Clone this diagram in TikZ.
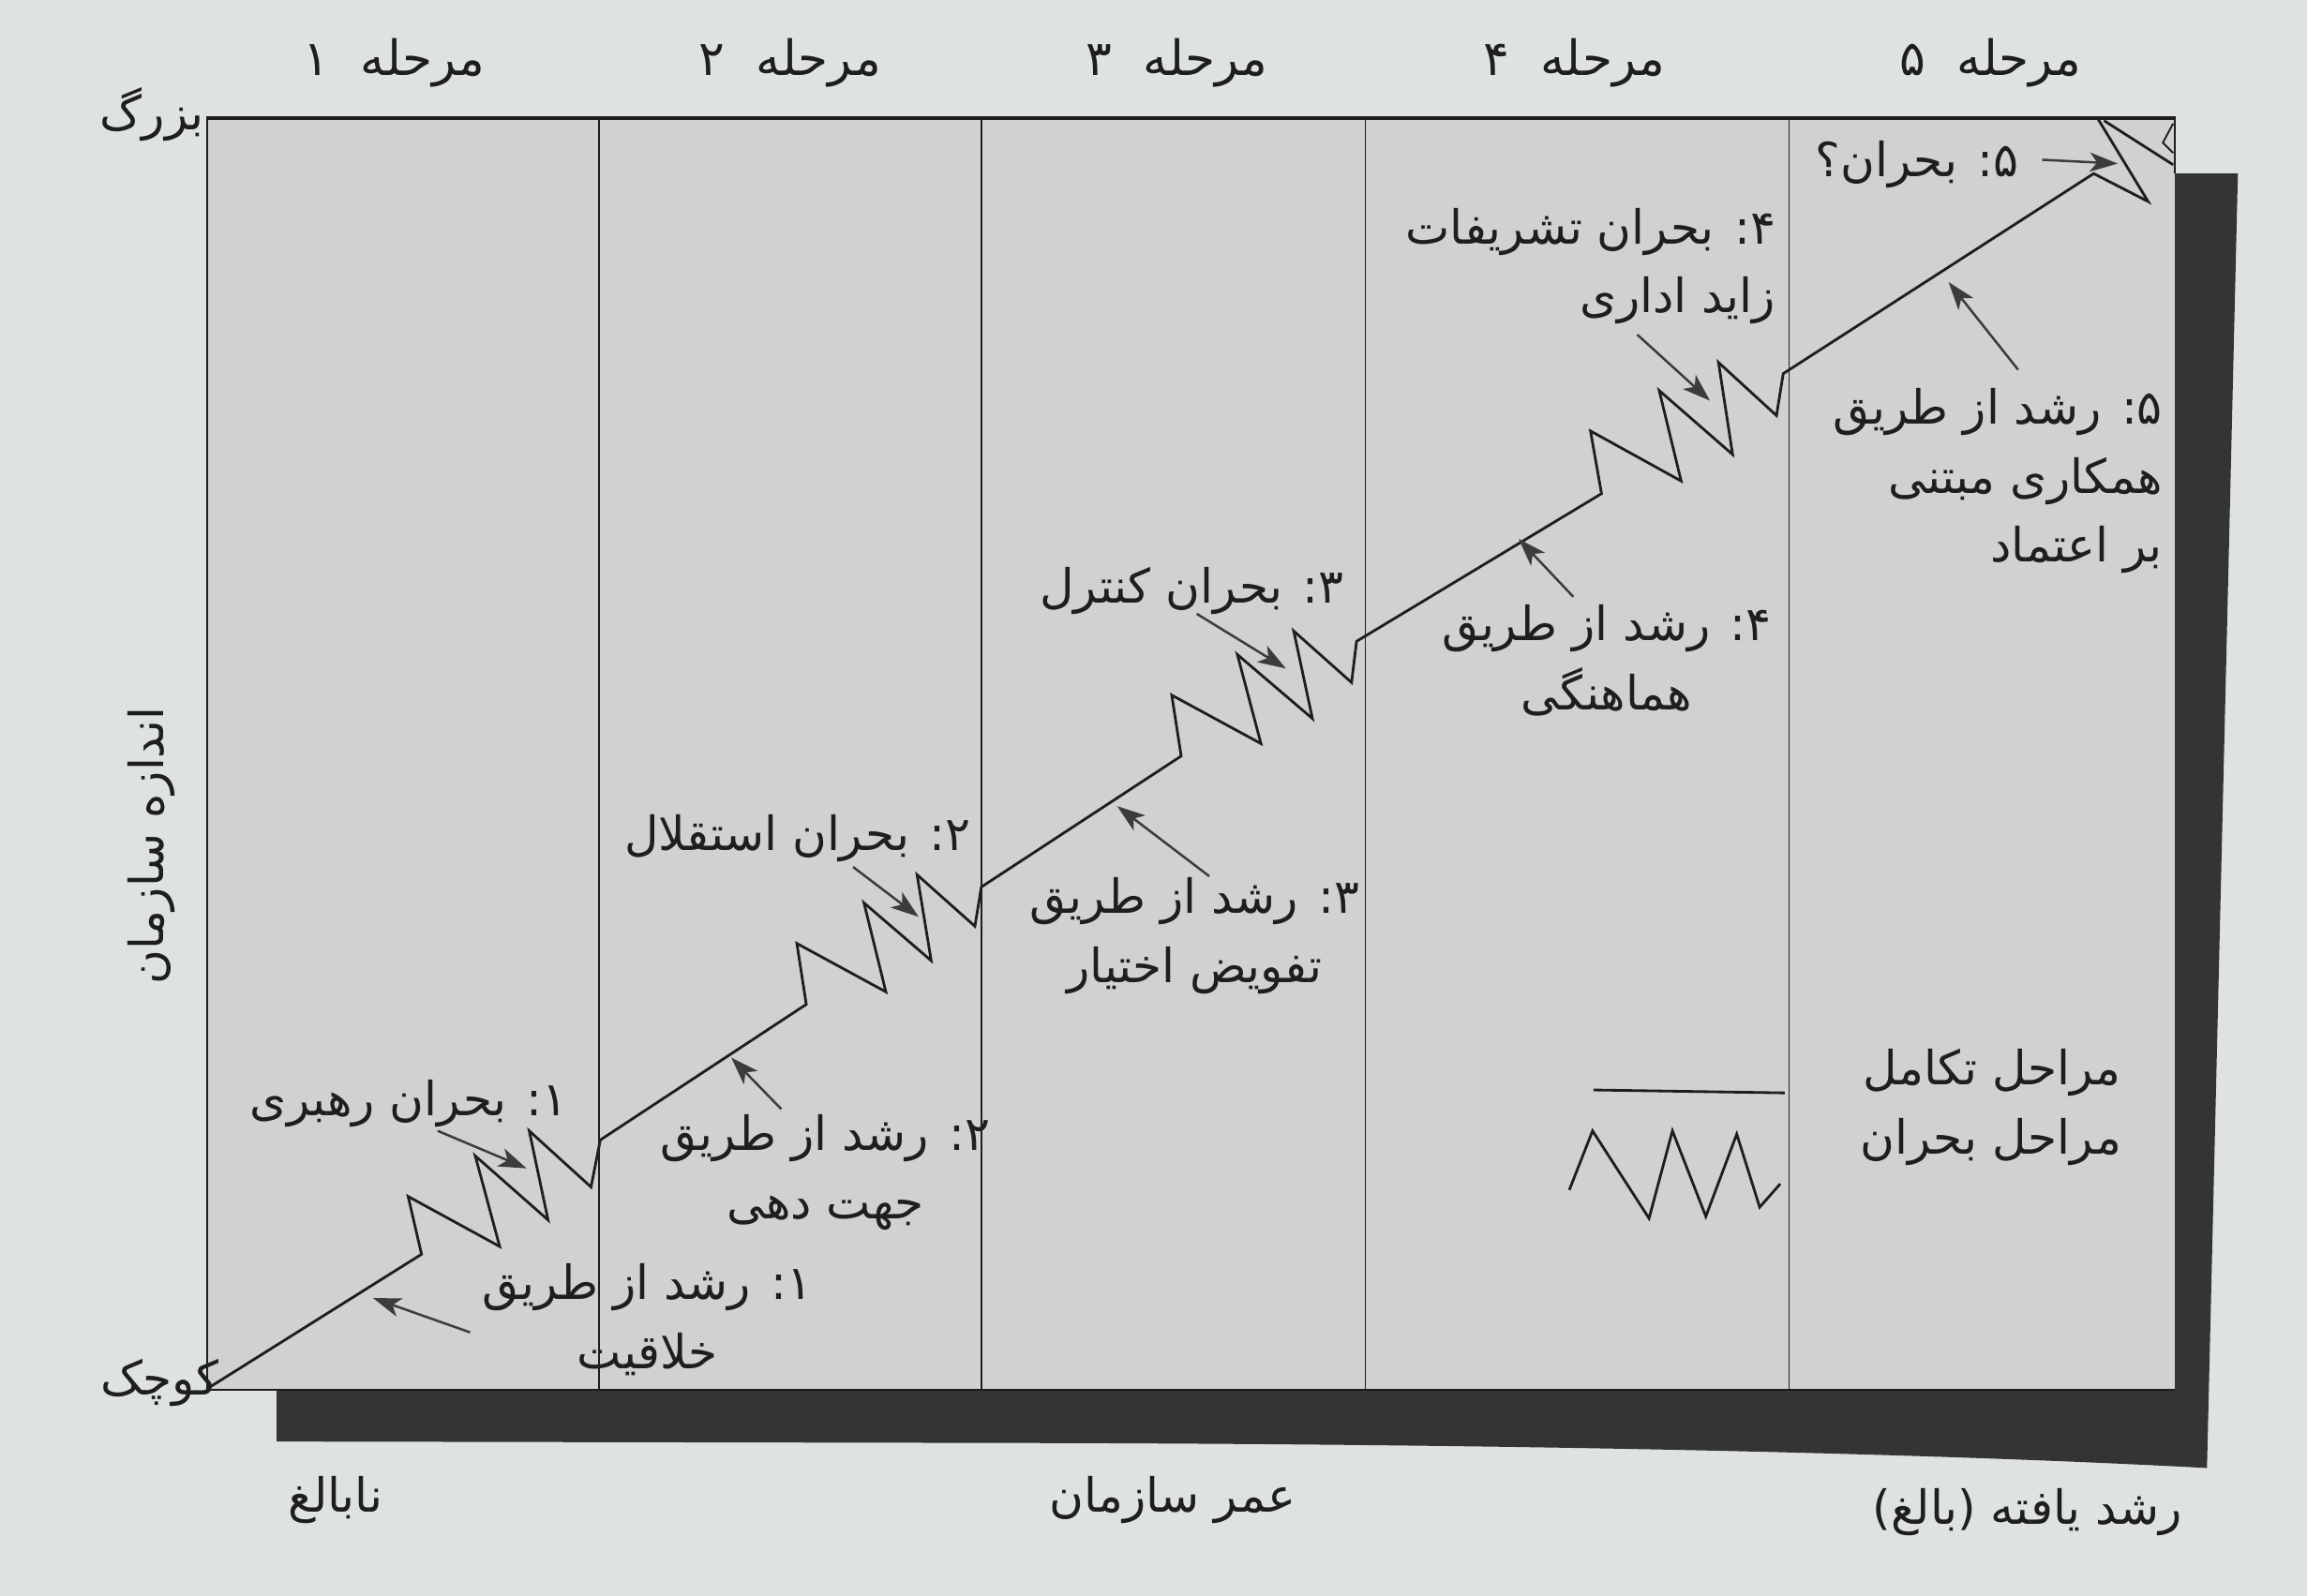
\documentclass[tikz,border=0pt]{standalone}
\usepackage{fontspec}
\usetikzlibrary{arrows.meta}
\TeXXeTstate=1
\newfontfamily\fafont[Script=Arabic]{DejaVu Sans}
\newcommand\rl[1]{\beginR #1\endR}
\definecolor{paper}{RGB}{222,226,225}
\definecolor{panel}{RGB}{207,210,209}
\definecolor{shadowcol}{RGB}{52,52,52}
\definecolor{ink}{RGB}{30,30,30}
\definecolor{arr}{RGB}{60,60,60}
\tikzset{
 lab/.style={font=\fafont\fontsize{32}{47}\selectfont, text=ink, inner sep=0pt, align=center},
 labr/.style={lab, align=right},
 toplab/.style={lab, font=\fafont\fontsize{33}{47}\selectfont},
 growth/.style={draw=ink, line width=1.8pt, line join=miter},
 pointer/.style={draw=arr, line width=1.6pt, -{Stealth[length=19pt,width=13pt,inset=5pt]}},
 frameline/.style={draw=ink, line width=1.4pt},
}
\begin{document}
\begin{tikzpicture}[x=1pt,y=-1pt]
\useasboundingbox (0,0) rectangle (1568,1085);
\fill[paper] (0,0) rectangle (1568,1085);
% shadow
\fill[shadowcol] (188,945) -- (188,980) -- (700,981) .. controls (1100,982) and (1350,990) .. (1500,998) -- (1521,118) -- (1478,118) -- (1478,945) -- cycle;
% panel
\fill[panel] (141,80) rectangle (1478,945);
\draw[frameline] (141,945) -- (141,80) -- (1478,80) -- (1478,118);
\draw[frameline, line width=2.6pt] (141,80) -- (1478,80);
\draw[frameline] (141,945) -- (1478,945);
\foreach \x in {407,667,928,1216} \draw[frameline, line width=1.2pt] (\x,80) -- (\x,945);
% growth path
\draw[growth] (141,944) -- (286.5,852.7) -- (277.4,813.4) -- (339.6,847.4) -- (323,785.8) -- (372.5,829.4) -- (359.7,768.8) -- (401.7,807) -- (408,775)
 -- (548,682.8) -- (541.6,641.4) -- (602.1,674.3) -- (587.2,613.8) -- (632.9,653.1) -- (623.3,594.7) -- (662.6,629.7) -- (667,603)
 -- (802.8,514) -- (796.4,472.6) -- (857,505.5) -- (841,445) -- (892,488.5) -- (879.3,429) -- (918.6,464) -- (922,436)
 -- (1088.5,335.6) -- (1081,293) -- (1142.6,327) -- (1127.7,265.5) -- (1177.6,309) -- (1168,246.4) -- (1207.4,282.5) -- (1212,254)
 -- (1423,118) -- (1460,137) -- (1426,81);
\draw[growth] (1430,82) -- (1477,112);
\draw[growth, line width=1.2pt] (1477,84) -- (1470,97) -- (1477,104);
% legend
\draw[growth] (1083,741) -- (1213,743);
\draw[growth] (1066.6,809) -- (1082.4,768.8) -- (1120.8,828.3) -- (1136.7,768.8) -- (1159.4,827) -- (1180.4,771) -- (1196,820.7) -- (1210,804.8);
% labels top
\node[toplab] (m1) at (268,43) {\rl{مرحله\ \ ۱}};
\node[toplab] (m2) at (537,43) {\rl{مرحله\ \ ۲}};
\node[toplab] (m3) at (800,43) {\rl{مرحله\ \ ۳}};
\node[toplab] (m4) at (1070,43) {\rl{مرحله\ \ ۴}};
\node[toplab] (m5) at (1353,43) {\rl{مرحله\ \ ۵}};
% axes
\node[lab, anchor=east] (big) at (139,78) {\rl{بزرگ}};
\node[lab, anchor=east] (small) at (149,940) {\rl{کوچک}};
\node[lab, rotate=90] (size) at (103,575) {\rl{اندازه سازمان}};
\node[lab] (young) at (228,1020) {\rl{نابالغ}};
\node[lab] (age) at (797,1020) {\rl{عمر سازمان}};
\node[lab] (mature) at (1378,1028) {\rl{رشد یافته (بالغ)}};
% stage labels
\node[lab] (c1) at (278,750) {\rl{۱\kern0pt: بحران رهبری}};
\node[lab] (g1) at (440,897) {\rl{۱\kern0pt: رشد از طریق}\\\rl{خلاقیت}};
\node[lab] (c2) at (542,570) {\rl{۲\kern0pt: بحران استقلال}};
\node[lab] (g2) at (561,797) {\rl{۲\kern0pt: رشد از طریق}\\\rl{جهت دهی}};
\node[lab] (c3) at (810,402) {\rl{۳\kern0pt: بحران کنترل}};
\node[lab] (g3) at (812,636) {\rl{۳\kern0pt: رشد از طریق}\\\rl{تفویض اختیار}};
\node[labr, anchor=east] (c4) at (1207,181) {\rl{۴\kern0pt: بحران تشریفات}\\\rl{زاید اداری}};
\node[lab] (g4) at (1092,449) {\rl{۴\kern0pt: رشد از طریق}\\\rl{هماهنگی}};
\node[lab] (c5) at (1303,112) {\rl{۵\kern0pt: بحران؟}};
\node[labr, anchor=east] (g5) at (1470,327) {\rl{۵\kern0pt: رشد از طریق}\\\rl{همکاری مبتنی}\\\rl{بر اعتماد}};
\node[labr, anchor=east] (leg) at (1442,753) {\rl{مراحل تکامل}\\\rl{مراحل بحران}};
% pointer coordinates
\coordinate (a1s) at (297.5,768.8); \coordinate (a1e) at (357.9,794.3);
\coordinate (a2s) at (319.5,905.8); \coordinate (a2e) at (253.6,882.5);
\coordinate (a3s) at (579.8,589.4); \coordinate (a3e) at (624.4,623.3);
\coordinate (a4s) at (531,754);     \coordinate (a4e) at (497,719);
\coordinate (a5s) at (813.4,417.3); \coordinate (a5e) at (874,454.5);
\coordinate (a6s) at (821.9,595.7); \coordinate (a6e) at (759.3,548);
\coordinate (a7s) at (1112.8,227.5); \coordinate (a7e) at (1162.2,272.4);
\coordinate (a8s) at (1069.3,405.7); \coordinate (a8e) at (1032.2,366.4);
\coordinate (a9s) at (1388,108.6);  \coordinate (a9e) at (1439.4,111.2);
\coordinate (a10s) at (1371.6,251.3); \coordinate (a10e) at (1324.4,191.8);
\foreach \i in {1,...,10} \draw[pointer] (a\i s) -- (a\i e);
\end{tikzpicture}
\end{document}
